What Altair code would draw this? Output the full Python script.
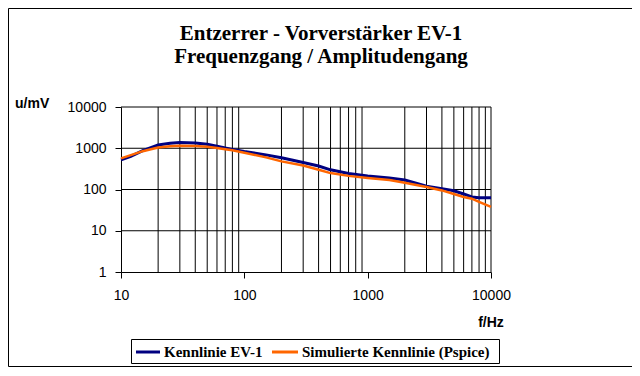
import altair as alt
import pandas as pd

# ---- data ----
freq = [10, 12, 15, 20, 25, 30, 40, 50, 60, 70, 80, 100, 150, 200, 300, 400, 500,
        700, 1000, 1500, 2000, 3000, 4000, 5000, 6000, 7000, 8000, 10000]
kennlinie = [520, 640, 880, 1200, 1320, 1370, 1340, 1250, 1120, 1010, 940, 830, 690,
             590, 450, 370, 300, 245, 212, 190, 170, 120, 105, 93, 78, 66, 63, 63]
simuliert = [570, 680, 850, 1040, 1120, 1150, 1130, 1090, 1020, 950, 890, 780, 600,
             480, 380, 300, 250, 214, 190, 170, 145, 115, 95, 78, 66, 60, 50, 38]

series_names = ["Kennlinie EV-1", "Simulierte Kennlinie (Pspice)"]
series_colors = ["#000080", "#FF6600"]

title_lines = ["Entzerrer - Vorverstärker EV-1", "Frequenzgang / Amplitudengang"]
x_ticks = [10, 100, 1000, 10000]
y_ticks = [1, 10, 100, 1000, 10000]
x_grid = [20, 30, 40, 50, 60, 70, 80, 90, 200, 300, 400, 500, 600, 700, 800, 900,
          2000, 3000, 4000, 5000, 6000, 7000, 8000, 9000, 10000]
y_grid = [10, 100, 1000, 10000]
x_title = "f/Hz"
y_title = "u/mV"

W, H = 370, 165

df_blue = pd.DataFrame({"f": freq, "u": kennlinie})
df_orange = pd.DataFrame({"f": freq, "u": simuliert})

xs = alt.Scale(type="log", domain=[10, 10000], nice=False)
ys = alt.Scale(type="log", domain=[1, 10000], nice=False)

x_axis = alt.Axis(values=x_ticks, format="d", grid=False, title=None, domainColor="black",
                  tickColor="black", tickSize=6, labelPadding=10, labelFont="Liberation Sans",
                  labelFontSize=14, labelColor="black", labelFlush=False, labelOverlap=False)
y_axis = alt.Axis(values=y_ticks, format="d", grid=False, title=None, domainColor="black",
                  tickColor="black", tickSize=6, labelPadding=9, labelFont="Liberation Sans",
                  labelFontSize=14, labelColor="black", labelFlush=False, labelOverlap=False)

one = alt.Data(values=[{"a": 1}])

vgrid = alt.Chart(pd.DataFrame({"g": x_grid})).mark_rule(color="black", strokeWidth=1).encode(
    x=alt.X("g:Q", scale=xs, axis=x_axis), y=alt.value(0), y2=alt.value(H))
hgrid = alt.Chart(pd.DataFrame({"g": y_grid})).mark_rule(color="black", strokeWidth=1).encode(
    y=alt.Y("g:Q", scale=ys, axis=y_axis), x=alt.value(0), x2=alt.value(W))

line_blue = alt.Chart(df_blue).mark_line(color=series_colors[0], strokeWidth=3).encode(
    x=alt.X("f:Q", scale=xs), y=alt.Y("u:Q", scale=ys))
line_orange = alt.Chart(df_orange).mark_line(color=series_colors[1], strokeWidth=2.5).encode(
    x=alt.X("f:Q", scale=xs), y=alt.Y("u:Q", scale=ys))

# outer frame
frame = alt.Chart(one).mark_rect(fill="white", fillOpacity=0, stroke="black", strokeWidth=1).encode(
    x=alt.value(-112.5), x2=alt.value(512), y=alt.value(-98.5), y2=alt.value(259.5))

title1 = alt.Chart(one).mark_text(font="Liberation Serif", fontSize=21, fontWeight="bold",
                                  align="center", baseline="alphabetic", color="black").encode(
    x=alt.value(200), y=alt.value(-67), text=alt.value(title_lines[0]))
title2 = alt.Chart(one).mark_text(font="Liberation Serif", fontSize=21, fontWeight="bold",
                                  align="center", baseline="alphabetic", color="black").encode(
    x=alt.value(200), y=alt.value(-44), text=alt.value(title_lines[1]))

ytitle = alt.Chart(one).mark_text(font="Liberation Sans", fontSize=14, fontWeight="bold",
                                  align="left", baseline="middle", color="black").encode(
    x=alt.value(-106), y=alt.value(-3), text=alt.value(y_title))
xtitle = alt.Chart(one).mark_text(font="Liberation Sans", fontSize=14, fontWeight="bold",
                                  align="center", baseline="middle", color="black").encode(
    x=alt.value(W), y=alt.value(216), text=alt.value(x_title))

# legend
leg_box = alt.Chart(one).mark_rect(fill="white", stroke="black", strokeWidth=1).encode(
    x=alt.value(10.5), x2=alt.value(378.5), y=alt.value(232.5), y2=alt.value(256.5))
leg_l1 = alt.Chart(one).mark_rule(color=series_colors[0], strokeWidth=3).encode(
    x=alt.value(15), x2=alt.value(39), y=alt.value(245))
leg_l2 = alt.Chart(one).mark_rule(color=series_colors[1], strokeWidth=3).encode(
    x=alt.value(151), x2=alt.value(177), y=alt.value(245))
leg_t1 = alt.Chart(one).mark_text(font="Liberation Serif", fontSize=15, fontWeight="bold",
                                  align="left", baseline="middle", color="black").encode(
    x=alt.value(43), y=alt.value(245), text=alt.value(series_names[0]))
leg_t2 = alt.Chart(one).mark_text(font="Liberation Serif", fontSize=15, fontWeight="bold",
                                  align="left", baseline="middle", color="black").encode(
    x=alt.value(181), y=alt.value(245), text=alt.value(series_names[1]))

chart = alt.layer(
    frame, vgrid, hgrid, line_blue, line_orange, title1, title2, ytitle, xtitle,
    leg_box, leg_l1, leg_l2, leg_t1, leg_t2
).properties(
    width=W, height=H,
    autosize=alt.AutoSizeParams(type="none"),
    padding={"left": 113, "top": 99, "right": 141, "bottom": 96},
    background="white",
).configure_view(strokeWidth=0)

chart.save("out.html", embed_options={"renderer": "svg", "actions": False})
